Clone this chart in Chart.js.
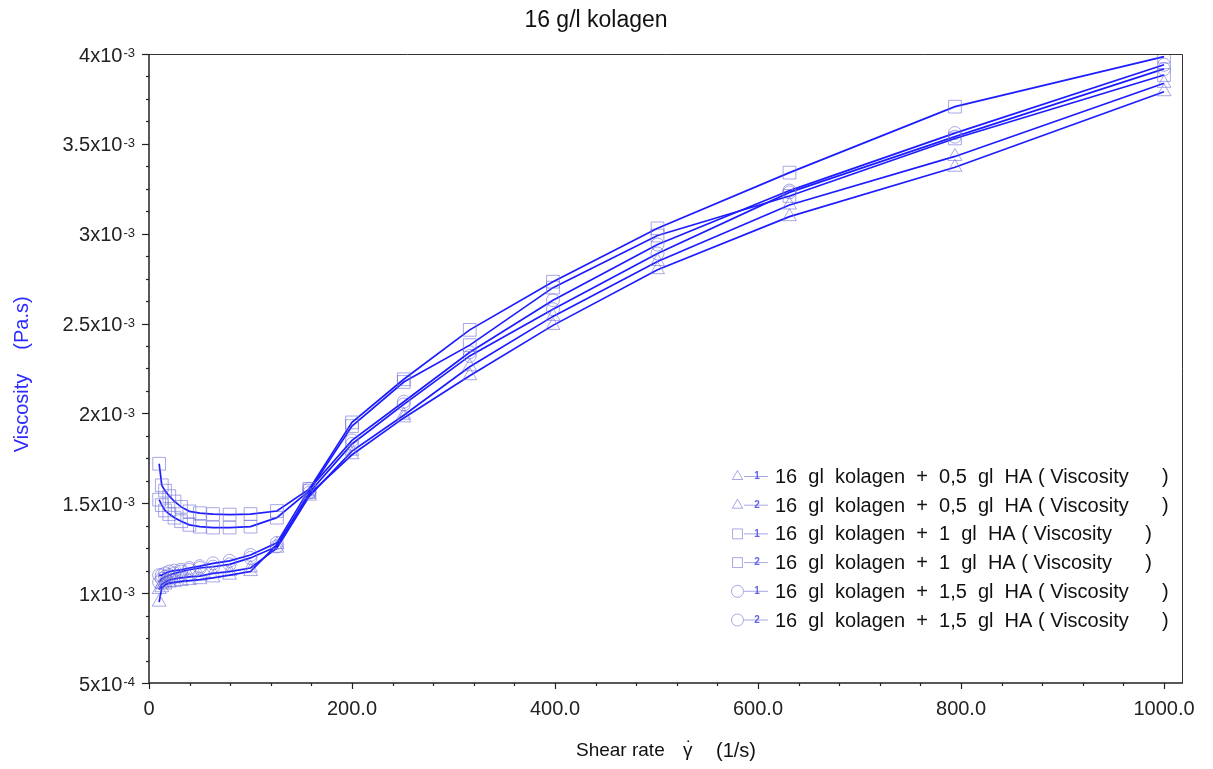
<!DOCTYPE html>
<html>
<head>
<meta charset="utf-8">
<script src="https://cdn.jsdelivr.net/npm/chart.js@4.4.0/dist/chart.umd.min.js"></script>
<style>
  html, body { margin: 0; padding: 0; background: #fff; }
  #wrap { width: 1213px; height: 769px; }
</style>
</head>
<body>
<div id="wrap"><canvas id="viscChart"></canvas></div>
<script>
const FONT = '"Liberation Sans", Arial, sans-serif';
const LINE_COLOR = '#1c1cff';
const MARK_COLOR = 'rgba(110, 110, 215, 0.6)';

// shear rate (1/s)
const shearRate = [10, 12.6, 15.8, 20, 25.1, 31.6, 39.8, 50.1, 63.1, 79.4, 100, 126, 158, 200, 251, 316, 398, 501, 631, 794, 1000];

// viscosity, in mPa.s (x10^-3 Pa.s)
const ha05run1 = [0.95, 1.03, 1.045, 1.056, 1.06, 1.065, 1.07, 1.075, 1.085, 1.10, 1.12, 1.27, 1.55, 1.77, 1.975, 2.21, 2.49, 2.80, 3.095, 3.37, 3.79];
const ha05run2 = [1.02, 1.05, 1.06, 1.073, 1.08, 1.085, 1.09, 1.095, 1.11, 1.12, 1.14, 1.25, 1.54, 1.79, 1.99, 2.26, 2.54, 2.845, 3.16, 3.43, 3.837];
const ha1run1 = [1.72, 1.60, 1.57, 1.54, 1.51, 1.48, 1.455, 1.445, 1.44, 1.437, 1.44, 1.457, 1.58, 1.95, 2.19, 2.465, 2.733, 3.03, 3.34, 3.707, 3.985];
const ha1run2 = [1.52, 1.49, 1.46, 1.44, 1.42, 1.40, 1.38, 1.37, 1.365, 1.365, 1.37, 1.42, 1.57, 1.93, 2.175, 2.38, 2.70, 2.99, 3.21, 3.53, 3.883];
const ha15run1 = [1.10, 1.10, 1.11, 1.12, 1.125, 1.13, 1.14, 1.15, 1.166, 1.18, 1.212, 1.28, 1.58, 1.85, 2.065, 2.34, 2.63, 2.94, 3.24, 3.56, 3.94];
const ha15run2 = [1.06, 1.08, 1.09, 1.10, 1.11, 1.12, 1.13, 1.14, 1.147, 1.16, 1.196, 1.26, 1.56, 1.83, 2.05, 2.32, 2.58, 2.89, 3.23, 3.54, 3.917];

const seriesLabels = [
  '16  gl  kolagen  +  0,5  gl  HA ( Viscosity      )',
  '16  gl  kolagen  +  0,5  gl  HA ( Viscosity      )',
  '16  gl  kolagen  +  1  gl  HA ( Viscosity      )',
  '16  gl  kolagen  +  1  gl  HA ( Viscosity      )',
  '16  gl  kolagen  +  1,5  gl  HA ( Viscosity      )',
  '16  gl  kolagen  +  1,5  gl  HA ( Viscosity      )'
];
const runNumbers = ['1', '2', '1', '2', '1', '2'];
const markerStyles = ['triangle', 'triangle', 'rect', 'rect', 'circle', 'circle'];

const xTickValues = [0, 200, 400, 600, 800, 1000];
const xTickLabels = ['0', '200.0', '400.0', '600.0', '800.0', '1000.0'];
const yTickValues = [0.5e-3, 1e-3, 1.5e-3, 2e-3, 2.5e-3, 3e-3, 3.5e-3, 4e-3];
const yTickMantissa = ['5', '1', '1.5', '2', '2.5', '3', '3.5', '4'];
const yTickExponent = ['-4', '-3', '-3', '-3', '-3', '-3', '-3', '-3'];

const allSeries = [ha05run1, ha05run2, ha1run1, ha1run2, ha15run1, ha15run2];

const datasets = allSeries.map((vals, i) => ({
  label: seriesLabels[i],
  data: shearRate.map((x, j) => ({ x: x, y: vals[j] / 1000 })),
  borderColor: LINE_COLOR,
  borderWidth: 1.7,
  backgroundColor: 'rgba(0,0,0,0)',
  pointStyle: markerStyles[i],
  pointRadius: markerStyles[i] === 'rect' ? 9 : (markerStyles[i] === 'triangle' ? 8 : 6.5),
  pointBorderColor: MARK_COLOR,
  pointBackgroundColor: 'rgba(0,0,0,0)',
  pointBorderWidth: 1,
  tension: 0,
  fill: false
}));

// frame, ticks, tick labels, titles and legend
const decorations = {
  id: 'decorations',
  afterDraw(chart) {
    const c = chart.ctx;
    const a = chart.chartArea;
    const xs = chart.scales.x;
    const ys = chart.scales.y;
    c.save();

    // box
    c.strokeStyle = '#333';
    c.lineWidth = 1;
    c.beginPath();
    c.moveTo(a.left, a.top + 0.5);
    c.lineTo(a.right + 0.5, a.top + 0.5);
    c.lineTo(a.right + 0.5, a.bottom);
    c.stroke();
    c.strokeStyle = '#222';
    c.lineWidth = 1.5;
    c.beginPath();
    c.moveTo(a.left, a.top);
    c.lineTo(a.left, a.bottom);
    c.lineTo(a.right + 1, a.bottom);
    c.stroke();

    // x ticks
    c.lineWidth = 1.2;
    for (let v = 0; v <= 1000; v += 40) {
      const px = Math.round(xs.getPixelForValue(v)) + 0.5;
      const len = v % 200 === 0 ? 6 : 3;
      c.beginPath();
      c.moveTo(px, a.bottom);
      c.lineTo(px, a.bottom + len);
      c.stroke();
    }
    // y ticks
    for (let k = 0; k <= 28; k++) {
      const v = 0.5e-3 + k * 0.125e-3;
      const py = Math.round(ys.getPixelForValue(v)) + 0.5;
      const len = k % 4 === 0 ? 7 : 3;
      c.beginPath();
      c.moveTo(a.left, py);
      c.lineTo(a.left - len, py);
      c.stroke();
    }

    c.fillStyle = '#222';
    c.font = '20px ' + FONT;
    c.textAlign = 'center';
    c.textBaseline = 'top';
    xTickValues.forEach((v, i) => {
      c.fillText(xTickLabels[i], xs.getPixelForValue(v), a.bottom + 16);
    });

    yTickValues.forEach((v, i) => {
      const py = ys.getPixelForValue(v);
      const right = a.left - 14;
      c.font = '13px ' + FONT;
      c.textAlign = 'right';
      c.textBaseline = 'top';
      const ew = c.measureText(yTickExponent[i]).width;
      c.fillText(yTickExponent[i], right, py - 7);
      c.font = '20px ' + FONT;
      c.textBaseline = 'middle';
      c.fillText(yTickMantissa[i] + 'x10', right - ew - 1, py + 2);
    });

    // titles
    c.fillStyle = '#111';
    c.font = '23px ' + FONT;
    c.textAlign = 'center';
    c.textBaseline = 'middle';
    c.fillText('16 g/l kolagen', 596, 21);

    c.font = '19px ' + FONT;
    c.textAlign = 'left';
    c.fillText('Shear rate', 576, 751);
    c.fillText('\u03B3', 683, 751);
    c.fillText('\u02D9', 686, 749);
    c.font = '20px ' + FONT;
    c.fillText('(1/s)', 716, 751);

    c.fillStyle = '#2b2bff';
    c.font = '20px ' + FONT;
    c.save();
    c.translate(22, 380);
    c.rotate(-Math.PI / 2);
    c.textAlign = 'center';
    c.fillText('Viscosity', -33, 0);
    c.fillText('(Pa.s)', 57, 0);
    c.restore();

    // legend
    chart.data.datasets.forEach((ds, i) => {
      const ry = 476.5 + i * 28.7;
      c.strokeStyle = MARK_COLOR;
      c.fillStyle = 'rgba(0,0,0,0)';
      c.lineWidth = 1;
      c.beginPath();
      c.moveTo(744, ry);
      c.lineTo(768, ry);
      c.stroke();
      Chart.helpers.drawPoint(c, {
        pointStyle: ds.pointStyle,
        radius: ds.pointStyle === 'rect' ? 7 : 6,
        borderWidth: 1
      }, 737.5, ry);
      c.fillStyle = 'rgba(80, 80, 230, 0.9)';
      c.font = 'bold 10px ' + FONT;
      c.textAlign = 'center';
      c.textBaseline = 'middle';
      c.fillText(runNumbers[i], 757, ry);
      c.fillStyle = '#111';
      c.font = '20px ' + FONT;
      c.textAlign = 'left';
      c.fillText(ds.label, 775, ry + 1);
    });

    c.restore();
  }
};

new Chart(document.getElementById('viscChart'), {
  type: 'line',
  data: { datasets },
  options: {
    responsive: true,
    maintainAspectRatio: false,
    animation: false,
    layout: { padding: { left: 149, right: 31, top: 54, bottom: 86 } },
    plugins: { legend: { display: false }, title: { display: false }, tooltip: { enabled: false } },
    scales: {
      x: { type: 'linear', display: false, min: 0, max: 1017.7 },
      y: { type: 'linear', display: false, min: 0.5e-3, max: 4e-3 }
    }
  },
  plugins: [decorations]
});
</script>
</body>
</html>
